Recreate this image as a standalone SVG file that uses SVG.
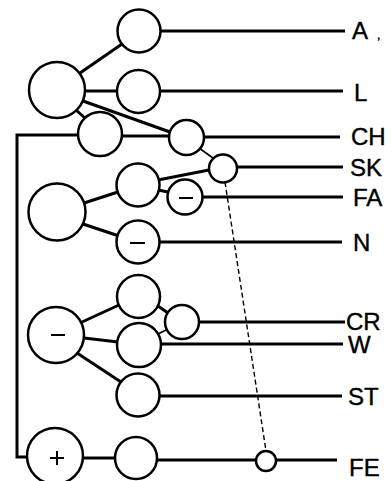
<svg xmlns="http://www.w3.org/2000/svg" width="392" height="481" viewBox="0 0 392 481">
<style>
.n{fill:#fff;stroke:#000;stroke-width:2.5}
.c{stroke:#000;stroke-width:3;fill:none;stroke-linecap:butt}
.t{stroke:#000;stroke-width:1.6;fill:none}
.d{stroke:#000;stroke-width:1.4;fill:none;stroke-dasharray:5 3}
.s{stroke:#000;stroke-width:2;fill:none}
.lb{font-family:"Liberation Sans",Arial,sans-serif;font-size:24px;fill:#000;stroke:#000;stroke-width:0.4}
</style>
<rect width="392" height="481" fill="#fff"/>
<g id="connectors">
<polyline class="c" points="78,135 17,135 17,457 28,457"/>
<line class="c" x1="80" y1="73" x2="122" y2="44"/>
<line class="c" x1="85" y1="91" x2="118" y2="91"/>
<line class="c" x1="83" y1="101" x2="170" y2="132"/>
<line class="c" x1="76" y1="110" x2="86" y2="119"/>
<line class="c" x1="122" y1="136" x2="169" y2="136"/>
<line class="t" x1="199" y1="148" x2="213" y2="158"/>
<line class="c" x1="84" y1="203" x2="118" y2="192"/>
<line class="c" x1="83" y1="224" x2="119" y2="236"/>
<line class="c" x1="158" y1="180" x2="209" y2="170"/>
<line class="c" x1="158" y1="190" x2="168" y2="192"/>
<line class="c" x1="82" y1="322" x2="119" y2="305"/>
<line class="c" x1="84" y1="338" x2="118" y2="342"/>
<line class="c" x1="77" y1="353" x2="121" y2="382"/>
<line class="c" x1="158" y1="306" x2="168" y2="313"/>
<line class="t" x1="158" y1="334" x2="168" y2="329"/>
<line class="c" x1="83" y1="458" x2="115" y2="458"/>
<line class="d" x1="225" y1="182" x2="266" y2="451"/>
<line class="c" x1="160" y1="31" x2="345" y2="31"/>
<line class="c" x1="160" y1="91" x2="343" y2="91"/>
<line class="c" x1="204" y1="137" x2="340" y2="137"/>
<line class="c" x1="237" y1="167" x2="343" y2="167"/>
<line class="c" x1="203" y1="197" x2="343" y2="197"/>
<line class="c" x1="159" y1="242" x2="342" y2="242"/>
<line class="c" x1="199" y1="322" x2="345" y2="322"/>
<line class="c" x1="161" y1="344" x2="343" y2="344"/>
<line class="c" x1="159" y1="396" x2="342" y2="396"/>
<line class="c" x1="157" y1="460" x2="337" y2="460"/>
</g>
<g id="n-top"><circle class="n" cx="57" cy="90" r="28"/></g>
<g id="n-a"><circle class="n" cx="139" cy="31" r="21.5"/></g>
<g id="n-l"><circle class="n" cx="138.5" cy="91.5" r="21.5"/></g>
<g id="n-under"><circle class="n" cx="100" cy="134" r="22"/></g>
<g id="n-ch"><circle class="n" cx="186.5" cy="137.5" r="17.5"/></g>
<g id="n-sk"><circle class="n" cx="223" cy="168.5" r="14"/></g>
<g id="n-mid"><circle class="n" cx="57" cy="212" r="28.5"/></g>
<g id="n-up"><circle class="n" cx="138" cy="185" r="21.5"/></g>
<g id="n-fa"><circle class="n" cx="185" cy="197" r="17.5"/><line class="s" x1="179" y1="198" x2="193" y2="198"/></g>
<g id="n-n"><circle class="n" cx="138" cy="242" r="21.5"/><line class="s" x1="130" y1="243" x2="145" y2="243"/></g>
<g id="n-minus"><circle class="n" cx="56" cy="335" r="28"/><line class="s" x1="51" y1="335" x2="65" y2="335"/></g>
<g id="n-crtop"><circle class="n" cx="138.5" cy="296.5" r="21.5"/></g>
<g id="n-cr"><circle class="n" cx="182" cy="322" r="17"/></g>
<g id="n-w"><circle class="n" cx="139" cy="345" r="22"/></g>
<g id="n-st"><circle class="n" cx="138" cy="395" r="21.5"/></g>
<g id="n-plus"><circle class="n" cx="55" cy="456" r="28"/><line class="s" x1="50" y1="458" x2="64" y2="458"/><line class="s" x1="57" y1="451" x2="57" y2="465"/></g>
<g id="n-fechain"><circle class="n" cx="136" cy="458" r="21"/></g>
<g id="n-fe"><circle class="n" cx="266" cy="461" r="10"/></g>
<g id="labels">
<text class="lb" x="352" y="39">A<tspan font-size="12" dx="9">,</tspan></text>
<text class="lb" x="354" y="101">L</text>
<text class="lb" x="351" y="145">CH</text>
<text class="lb" x="350" y="176">SK</text>
<text class="lb" x="353" y="206">FA</text>
<text class="lb" x="353" y="251">N</text>
<text class="lb" x="346" y="330">CR</text>
<text class="lb" x="348" y="353">W</text>
<text class="lb" x="348" y="405">ST</text>
<text class="lb" x="349" y="476">FE</text>
</g>
</svg>
